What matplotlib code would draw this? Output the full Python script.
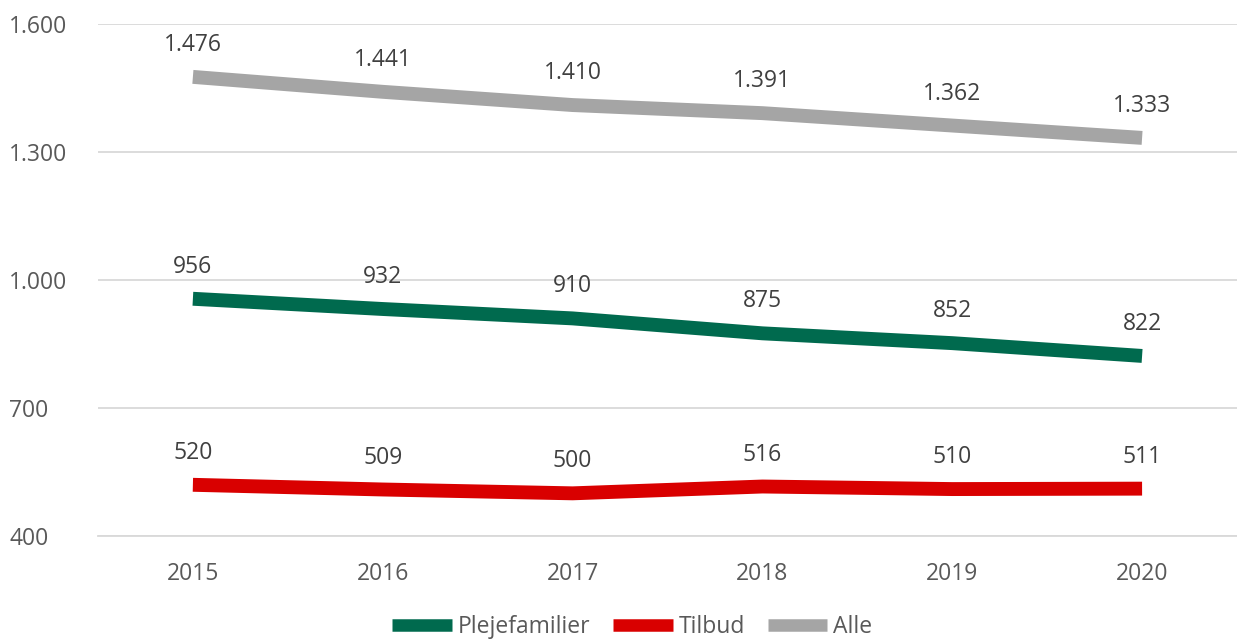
import matplotlib
matplotlib.use("Agg")
import matplotlib.pyplot as plt
import numpy as np

# data
years = ["2015", "2016", "2017", "2018", "2019", "2020"]
plejefamilier = [956, 932, 910, 875, 852, 822]
tilbud = [520, 509, 500, 516, 510, 511]
alle = [1476, 1441, 1410, 1391, 1362, 1333]
yticks = [400, 700, 1000, 1300, 1600]

plt.rcParams['font.family'] = ['Open Sans', 'DejaVu Sans']

def fmt(v):
    # danish thousand separator
    return "{:,}".format(v).replace(",", ".")

fig = plt.figure(figsize=(12.37, 6.41), dpi=100)
ax = fig.add_axes([0.0792, 0.1638, 0.9208, 0.7988])

x = np.arange(len(years))
series = [
    ("Plejefamilier", plejefamilier, "#006A4E"),
    ("Tilbud", tilbud, "#D90000"),
    ("Alle", alle, "#A5A5A5"),
]
for name, vals, col in series:
    ax.plot(x, vals, color=col, lw=10, solid_capstyle="butt", label=name)
    for xi, v in zip(x, vals):
        ax.annotate(fmt(v), (xi, v), xytext=(0, 23), textcoords="offset points",
                    ha="center", va="center", fontsize=16.5, color="#404040")

ax.set_xlim(-0.5, len(years) - 0.5)
ax.set_ylim(400, 1600)
ax.set_xticks(x)
ax.set_xticklabels(years)
ax.set_yticks(yticks)
ax.set_yticklabels([fmt(v) for v in yticks])
ax.tick_params(axis="both", length=0, labelsize=16.5, colors="#595959")
ax.tick_params(axis="x", pad=19)
for lbl in ax.get_yticklabels():
    lbl.set_horizontalalignment("left")
ax.yaxis.set_tick_params(pad=64)

ax.grid(axis="y", color="#D9D9D9", lw=1.3)
ax.set_axisbelow(True)
for s in ["top", "right", "left"]:
    ax.spines[s].set_visible(False)
ax.spines["bottom"].set_color("#D9D9D9")
ax.spines["bottom"].set_linewidth(1.3)

leg = fig.legend(loc="center", bbox_to_anchor=(0.511, 0.022), ncol=3, frameon=False,
                 fontsize=16.5, handlelength=2.6, handletextpad=0.25, columnspacing=1.0,
                 labelcolor="#595959", borderaxespad=0, borderpad=0.1)
for h in leg.get_lines():
    h.set_linewidth(9)

fig.savefig("out.png", dpi=100)
